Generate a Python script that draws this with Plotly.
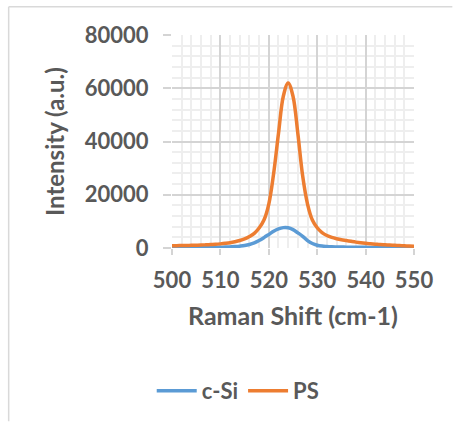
import plotly.graph_objects as go

# Raman shift axis (cm-1)
shift = list(range(500, 551))

# Crystalline silicon reference spectrum
c_si = [150, 155, 160, 170, 180, 200, 210, 225, 240, 265,
        300, 350, 420, 520, 680, 900, 1300, 1900, 2800, 3900,
        5100, 6300, 7200, 7650, 7600, 6900, 5700, 4400, 2800, 1700,
        1050, 720, 560, 460, 400, 350, 320, 290, 270, 250,
        235, 220, 210, 200, 190, 180, 175, 170, 165, 160, 150]

# Porous silicon spectrum
ps = [850, 880, 920, 960, 1000, 1050, 1100, 1200, 1300, 1400,
      1550, 1750, 2000, 2350, 2800, 3400, 4300, 5500, 7500, 10500,
      16500, 28000, 43000, 57000, 62000, 57000, 43000, 27000, 16500, 10500,
      7600, 5800, 4700, 4000, 3500, 3100, 2800, 2500, 2200, 1950,
      1750, 1600, 1450, 1300, 1200, 1100, 1000, 900, 820, 750, 700]

x_ticks = [500, 510, 520, 530, 540, 550]
y_ticks = [0, 20000, 40000, 60000, 80000]

TEXT = "#595959"
FONT = "Lato"

fig = go.Figure()
fig.add_trace(go.Scatter(x=shift, y=c_si, name="c-Si", mode="lines",
                         line=dict(color="#5B9BD5", width=3.5, shape="spline")))
fig.add_trace(go.Scatter(x=shift, y=ps, name="PS", mode="lines",
                         line=dict(color="#ED7D31", width=3.5, shape="spline")))

L, R, T, B = 171.5, 414.5, 35, 249
W, H = 453, 423
pw, ph = R - L, B - T


def px(xp):
    return (xp - L) / pw


def py(yp):
    return (B - yp) / ph


# outer chart frame (top and left edges)
for x0, y0, x1, y1 in [(7.5, 6.5, W, 6.5), (7.5, 6.5, 7.5, H)]:
    fig.add_shape(type="line", xref="paper", yref="paper",
                  x0=px(x0), y0=py(y0), x1=px(x1), y1=py(y1),
                  line=dict(color="#d9d9d9", width=1.5), layer="below")

fig.update_layout(
    width=W, height=H,
    margin=dict(l=L, r=W - R, t=T, b=H - B),
    paper_bgcolor="white", plot_bgcolor="white",
    font=dict(family=FONT, color=TEXT),
    showlegend=True,
    legend=dict(orientation="h", x=px(238), xanchor="center",
                y=py(391), yanchor="middle",
                font=dict(family=FONT, size=22, color=TEXT, weight="bold"),
                itemwidth=40, bgcolor="rgba(0,0,0,0)"),
)

fig.update_xaxes(
    range=[500, 550], tickvals=x_ticks, ticktext=[str(v) for v in x_ticks],
    showgrid=True, gridcolor="#d4d4d4", gridwidth=1.5,
    ticks="outside", ticklen=6, tickcolor="#d4d4d4", tickwidth=1.5,
    ticklabelstandoff=7,
    minor=dict(dtick=2, tick0=500, ticks="", showgrid=True,
               gridcolor="#eeeeee", gridwidth=1.5),
    zeroline=False, showline=False,
    tickfont=dict(family=FONT, size=22, color=TEXT, weight="bold"),
    title=dict(text="Raman Shift (cm-1)", standoff=15,
               font=dict(family=FONT, size=25, color=TEXT, weight="bold")),
)
fig.update_yaxes(
    range=[0, 80000], tickvals=y_ticks, ticktext=[str(v) for v in y_ticks],
    showgrid=True, gridcolor="#d4d4d4", gridwidth=1.5,
    ticks="outside", ticklen=8, tickcolor="#d4d4d4", tickwidth=1.5,
    ticklabelstandoff=10,
    minor=dict(dtick=4000, tick0=0, ticks="", showgrid=True,
               gridcolor="#eeeeee", gridwidth=1.5),
    zeroline=False, showline=False,
    tickfont=dict(family=FONT, size=22, color=TEXT, weight="bold"),
    title=dict(text="Intensity (a.u.)", standoff=13,
               font=dict(family=FONT, size=24, color=TEXT, weight="bold")),
)

fig.write_html("out.html")
